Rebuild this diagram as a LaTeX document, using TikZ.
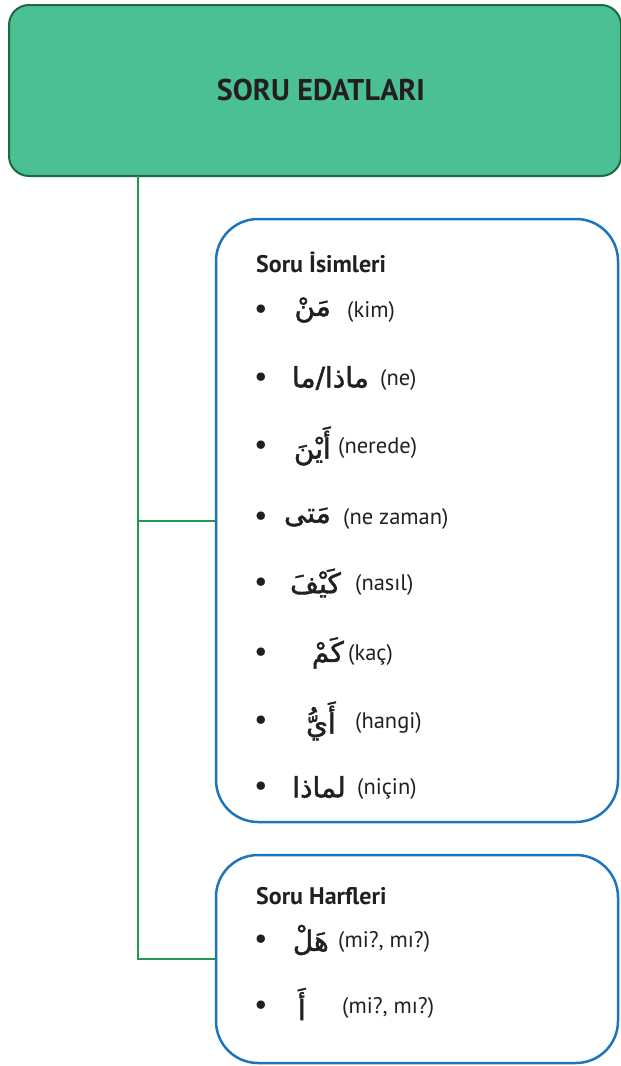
\documentclass[tikz,border=0pt]{standalone}
\usepackage{fontspec}
\setmainfont{PT Sans}
\newfontfamily\arabicfont[Script=Arabic,FakeBold=1.6]{DejaVu Sans}
\TeXXeTstate=1
\definecolor{titlefill}{HTML}{4BC095}
\definecolor{titledraw}{HTML}{1B6B3C}
\definecolor{connc}{HTML}{1E9A4A}
\definecolor{boxblue}{HTML}{1C75BC}
\definecolor{txt}{HTML}{231F20}
\begin{document}
\begin{tikzpicture}[x=1pt,y=-1pt,
  titlebox/.style={draw=titledraw,fill=titlefill,line width=2pt,rounded corners=20pt,inner sep=0pt},
  bluebox/.style={draw=boxblue,line width=2.5pt,rounded corners=42pt,inner sep=0pt},
  conn/.style={draw=connc,line width=2pt},
  heading/.style={font=\fontsize{24}{28}\selectfont\bfseries,text=txt,anchor=base west,inner sep=0pt},
  bul/.style={font=\fontsize{30}{32}\selectfont,text=txt,inner sep=0pt},
  ar/.style={font=\arabicfont\fontsize{28}{32}\selectfont,text=txt,anchor=east,inner sep=0pt},
  tr/.style={font=\fontsize{22.5}{26}\selectfont,text=txt,anchor=west,inner sep=0pt}]
\useasboundingbox (0,0) rectangle (621,1066);
\node[titlebox,minimum width=612pt,minimum height=171pt] (title) at (315,90.5) {};
\node[font=\fontsize{30}{36}\selectfont\bfseries,text=txt] (titletext) at (321,90) {SORU EDATLARI};
\node[bluebox,minimum width=402pt,minimum height=603pt] (box1) at (417,520.5) {};
\node[bluebox,minimum width=402pt,minimum height=208pt] (box2) at (417,959) {};
\coordinate (trunk) at (138,176);
\draw[conn] (trunk) |- (box1.west);
\draw[conn] (trunk) |- (box2.west);
% box 1
\node[heading] (h1) at (256,272) {Soru İsimleri};
\node[bul] (b1) at (261,312) {•};
\node[ar] (a1) at (331,310) {\beginR مَنْ\endR};
\node[tr] (t1) at (347,312) {(kim)};
\node[bul] (b2) at (261,380) {•};
\node[ar] (a2) at (369,378) {\beginR ماذا/ما\endR};
\node[tr] (t2) at (380,380) {(ne)};
\node[bul] (b3) at (261,448) {•};
\node[ar] (a3) at (331,446) {\beginR أَيْنَ\endR};
\node[tr] (t3) at (338,448) {(nerede)};
\node[bul] (b4) at (261,519) {•};
\node[ar] (a4) at (331,517) {\beginR مَتى\endR};
\node[tr] (t4) at (343,519) {(ne zaman)};
\node[bul] (b5) at (261,585) {•};
\node[ar] (a5) at (341,583) {\beginR كَيْفَ\endR};
\node[tr] (t5) at (355,585) {(nasıl)};
\node[bul] (b6) at (261,655) {•};
\node[ar] (a6) at (344,653) {\beginR كَمْ\endR};
\node[tr] (t6) at (348,655) {(kaç)};
\node[bul] (b7) at (261,723) {•};
\node[ar] (a7) at (336,721) {\beginR أَيُّ\endR};
\node[tr] (t7) at (355,723) {(hangi)};
\node[bul] (b8) at (261,789) {•};
\node[ar] (a8) at (346,787) {\beginR لماذا\endR};
\node[tr] (t8) at (357,789) {(niçin)};
% box 2
\node[heading] (h2) at (256,904) {Soru Harfleri};
\node[bul] (b9) at (261,942) {•};
\node[ar] (a9) at (329,940) {\beginR هَلْ\endR};
\node[tr] (t9) at (338,942) {(mi?, mı?)};
\node[bul] (b10) at (261,1008) {•};
\node[ar] (a10) at (306,1004) {\beginR أَ\endR};
\node[tr] (t10) at (342,1008) {(mi?, mı?)};
\end{tikzpicture}
\end{document}
